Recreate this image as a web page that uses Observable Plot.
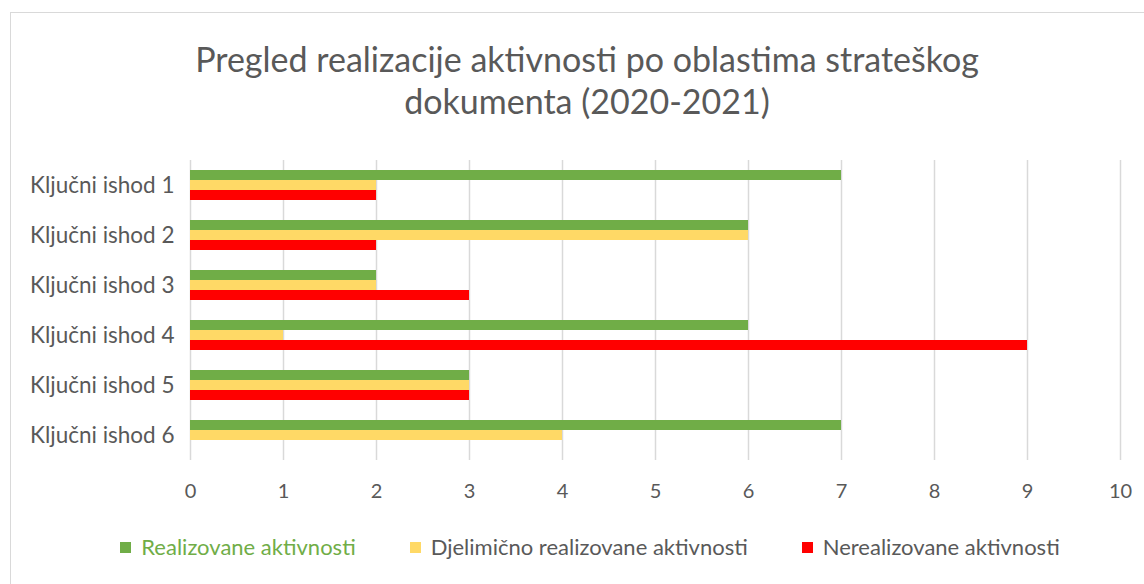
<!DOCTYPE html>
<html>
<head>
<meta charset="utf-8">
<script src="https://cdn.jsdelivr.net/npm/d3@7"></script>
<script src="https://cdn.jsdelivr.net/npm/@observablehq/plot@0.6"></script>
<style>
  html, body { margin: 0; padding: 0; background: #fff; overflow: hidden; }
  body { width: 1144px; height: 584px; position: relative; font-family: Lato, "Open Sans", sans-serif; }
  #frame { position: absolute; left: 10px; top: 12px; width: 1154px; height: 580px; border: 1px solid #d9d9d9; box-sizing: border-box; }
  #title { position: absolute; left: 10px; width: 1154px; top: 38px; text-align: center; font-size: 34px; line-height: 42px; color: #595959; }
  #chart { position: absolute; left: 0; top: 140px; }
  #legend { position: absolute; left: 10px; width: 1160px; top: 533px; display: flex; justify-content: center; gap: 54px; font-size: 22px; line-height: 28px; color: #595959; }
  .item { display: flex; align-items: center; }
  .sw { width: 11px; height: 11px; margin-right: 10px; }
</style>
</head>
<body>
<div id="frame"></div>
<div id="title">Pregled realizacije aktivnosti po oblastima strateškog<br>dokumenta (2020-2021)</div>
<div id="chart"></div>
<div id="legend"></div>
<script>
const categories = ["Ključni ishod 1", "Ključni ishod 2", "Ključni ishod 3", "Ključni ishod 4", "Ključni ishod 5", "Ključni ishod 6"];
const seriesNames = ["Realizovane aktivnosti", "Djelimično realizovane aktivnosti", "Nerealizovane aktivnosti"];
const realizovane = [7, 6, 2, 6, 3, 7];
const djelimicno = [2, 6, 2, 1, 3, 4];
const nerealizovane = [2, 2, 3, 9, 3, 0];
const xTicks = [0, 1, 2, 3, 4, 5, 6, 7, 8, 9, 10];
const colors = ["#70AD47", "#FFD966", "#FF0000"];
const legendTextColors = ["#70AD47", "#595959", "#595959"];

const seriesValues = [realizovane, djelimicno, nerealizovane];
const data = [];
categories.forEach((c, i) => {
  seriesNames.forEach((s, j) => {
    data.push({category: c, series: s, value: seriesValues[j][i]});
  });
});

const chart = Plot.plot({
  width: 1144,
  height: 367,
  marginLeft: 190,
  marginRight: 24,
  marginTop: 17,
  marginBottom: 45,
  style: {fontFamily: "Lato, 'Open Sans', sans-serif", fontSize: "20px", color: "#595959", background: "transparent"},
  x: {domain: [0, 10]},
  y: {domain: seriesNames, axis: null, paddingInner: 0, paddingOuter: 0.914},
  fy: {domain: categories, padding: 0, label: null},
  color: {domain: seriesNames, range: colors},
  marks: [
    Plot.gridX(xTicks, {stroke: "#d9d9d9", strokeOpacity: 1, strokeWidth: 1.5}),
    Plot.barX(data, {fy: "category", y: "series", x: "value", fill: "series"}),
    Plot.axisX(xTicks, {anchor: "bottom", tickSize: 0, tickPadding: 23, label: null, fill: "#595959", fontSize: 20}),
    Plot.axisFy({anchor: "left", tickSize: 0, tickPadding: 16, label: null, fill: "#595959", fontSize: 22.5})
  ]
});
document.getElementById("chart").appendChild(chart);

const legend = document.getElementById("legend");
seriesNames.forEach((s, j) => {
  const item = document.createElement("div");
  item.className = "item";
  const sw = document.createElement("span");
  sw.className = "sw";
  sw.style.background = colors[j];
  const t = document.createElement("span");
  t.textContent = s;
  t.style.color = legendTextColors[j];
  item.appendChild(sw);
  item.appendChild(t);
  legend.appendChild(item);
});
</script>
</body>
</html>
